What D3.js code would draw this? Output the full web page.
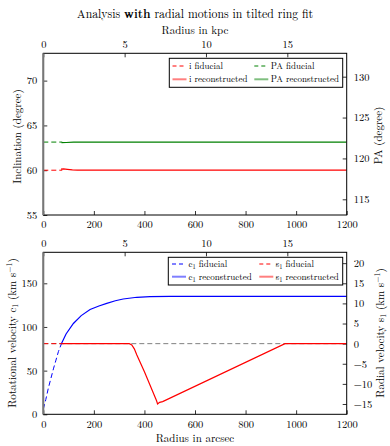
<!DOCTYPE html>
<html>
<head>
<meta charset="utf-8">
<script src="https://cdn.jsdelivr.net/npm/d3@7"></script>
<style>
  body { margin: 0; background: #fff; }
</style>
</head>
<body>
<svg id="main" width="390" height="446"></svg>
<script>
// ---- data ----
var xTicksArcsec = [0, 200, 400, 600, 800, 1000, 1200];
var xTicksKpc = [0, 5, 10, 15];
var kpcMax = 18.65;

var incTicks = [55, 60, 65, 70];
var paTicks = [115, 120, 125, 130];
var c1Ticks = [0, 50, 100, 150];
var s1Ticks = [-15, -10, -5, 0, 5, 10, 15, 20];

// inclination / PA
var incFiducial = [[0, 60], [75, 60]];
var incRecon = [[70, 60.12], [80, 60.15], [95, 60.1], [115, 60.03], [135, 60], [1200, 60]];
var paFiducial = [[0, 122], [75, 122]];
var paRecon = [[72, 121.93], [90, 121.95], [120, 121.99], [150, 122], [1200, 122]];

// rotational velocity c1
var c1Fiducial = [[0, 6], [10, 17], [20, 30], [30, 41], [40, 52], [50, 62], [60, 72], [72, 81]];
var c1Recon = [[72, 81], [90, 92], [119, 104], [150, 113], [185, 120], [220, 124],
               [251, 127], [285, 130], [316, 132], [370, 134], [422, 134.7], [500, 135], [1200, 135]];

// radial velocity s1
var s1Zero = [[0, 0], [1200, 0]];
var s1Fiducial = [[0, 0], [75, 0]];
var s1Recon = [[72, 0], [340, 0], [350, -0.3], [360, -1.3], [370, -2.8], [400, -7.0],
               [448, -14.2], [452, -15.0], [460, -14.6], [472, -14.4], [956, 0], [1200, 0]];

var FONT = "'Latin Modern Roman', 'Liberation Serif', serif";
var svg = d3.select("#main");

var left = 43.3, right = 346.7;
var x = d3.scaleLinear().domain([0, 1200]).range([left, right]);
var xk = d3.scaleLinear().domain([0, kpcMax]).range([left, right]);

// panels
var p1 = {top: 53.3, bottom: 215};
var p2 = {top: 252.3, bottom: 414.3};

var yInc = d3.scaleLinear().domain([55, 73.05]).range([p1.bottom, p1.top]);
var yPA = d3.scaleLinear().domain([113.08, 132.86]).range([p1.bottom, p1.top]);
var yC1 = d3.scaleLinear().domain([0, 185.5]).range([p2.bottom, p2.top]);
var yS1 = d3.scaleLinear().domain([-17.56, 22.7]).range([p2.bottom, p2.top]);

function line(ys) {
  return d3.line().x(function(d) { return x(d[0]); }).y(function(d) { return ys(d[1]); });
}

function drawAxes(p, yl, yr, ylTicks, yrTicks) {
  var g = svg.append("g");
  // ticks point inward on every side
  g.append("g").attr("transform", "translate(0," + p.bottom + ")")
    .call(d3.axisBottom(x).tickValues(xTicksArcsec).tickSize(-4).tickPadding(6).tickFormat(d3.format("d")));
  g.append("g").attr("transform", "translate(0," + p.top + ")")
    .call(d3.axisTop(xk).tickValues(xTicksKpc).tickSize(-4).tickPadding(5).tickFormat(d3.format("d")));
  g.append("g").attr("transform", "translate(" + left + ",0)")
    .call(d3.axisLeft(yl).tickValues(ylTicks).tickSize(-4).tickPadding(6).tickFormat(d3.format("d")));
  g.append("g").attr("transform", "translate(" + right + ",0)")
    .call(d3.axisRight(yr).tickValues(yrTicks).tickSize(-4).tickPadding(7)
      .tickFormat(function(d) { return d < 0 ? "\u2212" + (-d) : d; }));
  g.selectAll(".domain").remove();
  g.selectAll(".tick line").attr("stroke", "#000").attr("stroke-width", 0.8);
  g.selectAll(".tick text").style("font-family", FONT).style("font-size", "10.5px").attr("fill", "#000");
  return g;
}

function frame(p) {
  svg.append("rect").attr("x", left).attr("y", p.top)
    .attr("width", right - left).attr("height", p.bottom - p.top)
    .attr("fill", "none").attr("stroke", "#000").attr("stroke-width", 1);
  svg.append("line").attr("x1", left).attr("x2", left).attr("y1", p.top).attr("y2", p.bottom)
    .attr("stroke", "#777").attr("stroke-width", 2);
}

function clip(id, p) {
  svg.append("clipPath").attr("id", id).append("rect")
    .attr("x", left).attr("y", p.top).attr("width", right - left).attr("height", p.bottom - p.top);
}
clip("c1", p1); clip("c2", p2);

// ---- top panel ----
drawAxes(p1, yInc, yPA, incTicks, paTicks);
var g1 = svg.append("g").attr("clip-path", "url(#c1)");
g1.append("path").datum(incFiducial).attr("d", line(yInc)).attr("fill", "none")
  .attr("stroke", "#ff0000").attr("stroke-width", 1).attr("stroke-dasharray", "5,3");
g1.append("path").datum(paFiducial).attr("d", line(yPA)).attr("fill", "none")
  .attr("stroke", "#008000").attr("stroke-width", 1).attr("stroke-dasharray", "5,3");
g1.append("path").datum(incRecon).attr("d", line(yInc)).attr("fill", "none")
  .attr("stroke", "#ff0000").attr("stroke-width", 1.2);
g1.append("path").datum(paRecon).attr("d", line(yPA)).attr("fill", "none")
  .attr("stroke", "#008000").attr("stroke-width", 1.2);
frame(p1);

// ---- bottom panel ----
drawAxes(p2, yC1, yS1, c1Ticks, s1Ticks);
var g2 = svg.append("g").attr("clip-path", "url(#c2)");
g2.append("path").datum(s1Zero).attr("d", line(yS1)).attr("fill", "none")
  .attr("stroke", "#808080").attr("stroke-width", 1).attr("stroke-dasharray", "5,3");
g2.append("path").datum(c1Fiducial).attr("d", line(yC1)).attr("fill", "none")
  .attr("stroke", "#0000ff").attr("stroke-width", 1).attr("stroke-dasharray", "5,3");
g2.append("path").datum(s1Fiducial).attr("d", line(yS1)).attr("fill", "none")
  .attr("stroke", "#ff0000").attr("stroke-width", 1).attr("stroke-dasharray", "5,3");
g2.append("path").datum(c1Recon).attr("d", line(yC1)).attr("fill", "none")
  .attr("stroke", "#0000ff").attr("stroke-width", 1.2);
g2.append("path").datum(s1Recon).attr("d", line(yS1)).attr("fill", "none")
  .attr("stroke", "#ff0000").attr("stroke-width", 1.2);
frame(p2);

// ---- legends ----
function legend(x0, y0, w, h, items) {
  var g = svg.append("g");
  g.append("rect").attr("x", x0).attr("y", y0).attr("width", w).attr("height", h)
    .attr("fill", "#fff").attr("stroke", "#000").attr("stroke-width", 1);
  items.forEach(function(it) {
    g.append("line").attr("x1", it.lx).attr("x2", it.lx + 14).attr("y1", it.y).attr("y2", it.y)
      .attr("stroke", it.color).attr("stroke-width", it.dash ? 1 : 2)
      .attr("stroke-opacity", it.dash ? 1 : 0.5)
      .attr("stroke-dasharray", it.dash ? "4,3" : null);
    var t = g.append("text").attr("x", it.lx + 16.5).attr("y", it.y + 3)
      .style("font-family", FONT).style("font-size", "9px");
    it.parts.forEach(function(p) {
      var s = t.append("tspan").text(p[0]);
      if (p[1] == "sub") s.style("font-size", "6.5px").attr("dy", 2);
      if (p[1] == "after") s.attr("dy", -2);
    });
  });
}
legend(169.3, 58.3, 173.4, 29, [
  {lx: 172.5, y: 66, color: "#ff0000", dash: true, parts: [["i fiducial"]]},
  {lx: 172.5, y: 79.3, color: "#ff0000", dash: false, parts: [["i reconstructed"]]},
  {lx: 254.3, y: 66, color: "#008000", dash: true, parts: [["PA fiducial"]]},
  {lx: 254.3, y: 79.3, color: "#008000", dash: false, parts: [["PA reconstructed"]]}
]);
legend(168.3, 257.3, 174.4, 27.7, [
  {lx: 172, y: 264, color: "#0000ff", dash: true, parts: [["c"], ["1", "sub"], [" fiducial", "after"]]},
  {lx: 172, y: 276.7, color: "#0000ff", dash: false, parts: [["c"], ["1", "sub"], [" reconstructed", "after"]]},
  {lx: 259.3, y: 264, color: "#ff0000", dash: true, parts: [["s"], ["1", "sub"], [" fiducial", "after"]]},
  {lx: 259.3, y: 276.7, color: "#ff0000", dash: false, parts: [["s"], ["1", "sub"], [" reconstructed", "after"]]}
]);

// ---- titles and axis labels ----
var title = svg.append("text").attr("x", 195).attr("y", 17.5).attr("text-anchor", "middle")
  .style("font-family", FONT).style("font-size", "11.8px");
title.append("tspan").text("Analysis ");
title.append("tspan").attr("font-weight", "bold").text("with");
title.append("tspan").text(" radial motions in tilted ring fit");

svg.append("text").attr("x", 195).attr("y", 34).attr("text-anchor", "middle")
  .style("font-family", FONT).style("font-size", "11px").text("Radius in kpc");
svg.append("text").attr("x", 195).attr("y", 442).attr("text-anchor", "middle")
  .style("font-family", FONT).style("font-size", "11px").text("Radius in arcsec");

function vlabel(cx, cy, rot, parts) {
  var t = svg.append("text").attr("transform", "translate(" + cx + "," + cy + ") rotate(" + rot + ")")
    .attr("text-anchor", "middle").style("font-family", FONT).style("font-size", "11px");
  parts.forEach(function(p) {
    var s = t.append("tspan").text(p[0]);
    if (p[1] == "sub") s.style("font-size", "8px").attr("dy", 2.5);
    if (p[1] == "subEnd") s.attr("dy", -2.5);
    if (p[1] == "sup") s.style("font-size", "8px").attr("dy", -4);
    if (p[1] == "supEnd") s.attr("dy", 4);
  });
}
vlabel(21, 136.5, -90, [["Inclination (degree)"]]);
vlabel(15.5, 333, -90, [["Rotational velocity c"], ["1", "sub"], [" (km s", "subEnd"], ["\u22121", "sup"], [")", "supEnd"]]);
vlabel(382, 135.5, -90, [["PA (degree)"]]);
vlabel(383.5, 333, -90, [["Radial velocity s"], ["1", "sub"], [" (km s", "subEnd"], ["\u22121", "sup"], [")", "supEnd"]]);
</script>
</body>
</html>
